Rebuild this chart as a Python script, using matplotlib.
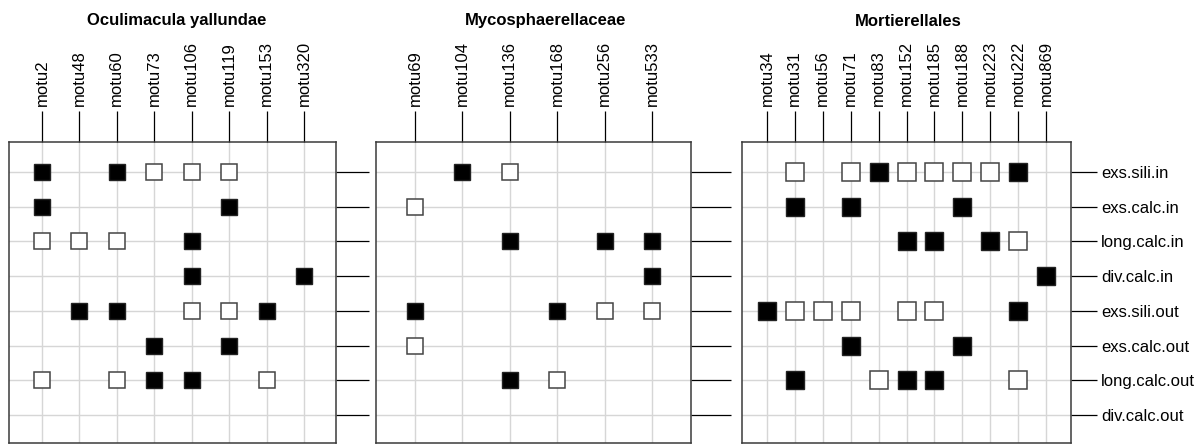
import numpy as np
import matplotlib.pyplot as plt

plt.rcParams['font.family'] = ['Liberation Sans', 'DejaVu Sans']

# traits (rows, top to bottom)
traits = ['exs.sili.in', 'exs.calc.in', 'long.calc.in', 'div.calc.in',
          'exs.sili.out', 'exs.calc.out', 'long.calc.out', 'div.calc.out']

# 1 = filled square, -1 = open square, 0 = nothing
ocul_motus = ['motu2', 'motu48', 'motu60', 'motu73', 'motu106', 'motu119',
              'motu153', 'motu320']
ocul_marks = [
    [1, 0, 1, -1, -1, -1, 0, 0],
    [1, 0, 0, 0, 0, 1, 0, 0],
    [-1, -1, -1, 0, 1, 0, 0, 0],
    [0, 0, 0, 0, 1, 0, 0, 1],
    [0, 1, 1, 0, -1, -1, 1, 0],
    [0, 0, 0, 1, 0, 1, 0, 0],
    [-1, 0, -1, 1, 1, 0, -1, 0],
    [0, 0, 0, 0, 0, 0, 0, 0],
]

myco_motus = ['motu69', 'motu104', 'motu136', 'motu168', 'motu256', 'motu533']
myco_marks = [
    [0, 1, -1, 0, 0, 0],
    [-1, 0, 0, 0, 0, 0],
    [0, 0, 1, 0, 1, 1],
    [0, 0, 0, 0, 0, 1],
    [1, 0, 0, 1, -1, -1],
    [-1, 0, 0, 0, 0, 0],
    [0, 0, 1, -1, 0, 0],
    [0, 0, 0, 0, 0, 0],
]

mort_motus = ['motu34', 'motu31', 'motu56', 'motu71', 'motu83', 'motu152',
              'motu185', 'motu188', 'motu223', 'motu222', 'motu869']
mort_marks = [
    [0, -1, 0, -1, 1, -1, -1, -1, -1, 1, 0],
    [0, 1, 0, 1, 0, 0, 0, 1, 0, 0, 0],
    [0, 0, 0, 0, 0, 1, 1, 0, 1, -1, 0],
    [0, 0, 0, 0, 0, 0, 0, 0, 0, 0, 1],
    [1, -1, -1, -1, 0, -1, -1, 0, 0, 1, 0],
    [0, 0, 0, 1, 0, 0, 0, 1, 0, 0, 0],
    [0, 1, 0, 0, -1, 1, 1, 0, 0, -1, 0],
    [0, 0, 0, 0, 0, 0, 0, 0, 0, 0, 0],
]

W, H = 1202, 444
PT = 0.72  # points per pixel at 100 dpi
fig = plt.figure(figsize=(W / 100, H / 100), dpi=100)


def px_axes(left, top, right, bottom):
    return fig.add_axes([left / W, 1 - bottom / H,
                         (right - left) / W, (bottom - top) / H])


# title, motus, marks, box (l, t, r, b), first/last column px,
# title x px, right tick length px, square px, show row labels
panels = [
    ('Oculimacula yallundae', ocul_motus, ocul_marks,
     (9, 142, 336, 443), (42, 304), 177, 33, 18, False),
    ('Mycosphaerellaceae', myco_motus, myco_marks,
     (376, 142, 691, 443), (415, 652), 546, 40, 17, False),
    ('Mortierellales', mort_motus, mort_marks,
     (742, 142, 1071, 443), (767, 1046), 908, 26, 19, True),
]
row_span = (172, 415)

for title, motus, marks, box, cols, tx, tlen, sq, labels in panels:
    ax = px_axes(*box)
    n = len(motus)
    left, top, right, bottom = box

    dx = (cols[1] - cols[0]) / (n - 1)
    ax.set_xlim(1 - (cols[0] - left) / dx, n + (right - cols[1]) / dx)
    dy = (row_span[1] - row_span[0]) / (len(traits) - 1)
    ax.set_ylim(len(traits) + (bottom - row_span[1]) / dy,
                1 - (row_span[0] - top) / dy)

    arr = np.array(marks)
    yf, xf = np.nonzero(arr == 1)
    yo, xo = np.nonzero(arr == -1)
    ax.plot(xf + 1, yf + 1, 's', ms=sq * PT - 1, mfc='black', mec='#222222',
            mew=1.0, ls='none', zorder=3)
    ax.plot(xo + 1, yo + 1, 's', ms=sq * PT - 1, mfc='white', mec='#444444',
            mew=1.1, ls='none', zorder=3)

    ax.set_xticks(np.arange(1, n + 1))
    ax.set_xticklabels(motus, rotation=90)
    ax.xaxis.tick_top()
    ax.tick_params(axis='x', length=31 * PT, width=0.9, pad=3.5,
                   labelsize=12, colors='black')

    ax.set_yticks(np.arange(1, len(traits) + 1))
    ax.set_yticklabels(traits)
    ax.yaxis.tick_right()
    ax.tick_params(axis='y', length=tlen * PT, width=0.9, pad=3,
                   labelsize=12, labelright=labels, colors='black')

    ax.grid(True, color='#d6d6d6', lw=1.0)
    ax.set_axisbelow(True)
    for sp in ax.spines.values():
        sp.set_color('#3a3a3a')
        sp.set_linewidth(1.1)

    fig.text(tx / W, 1 - 21 / H, title, ha='center', va='center',
             fontsize=12, fontweight='bold')

fig.savefig('out.png', dpi=100)
